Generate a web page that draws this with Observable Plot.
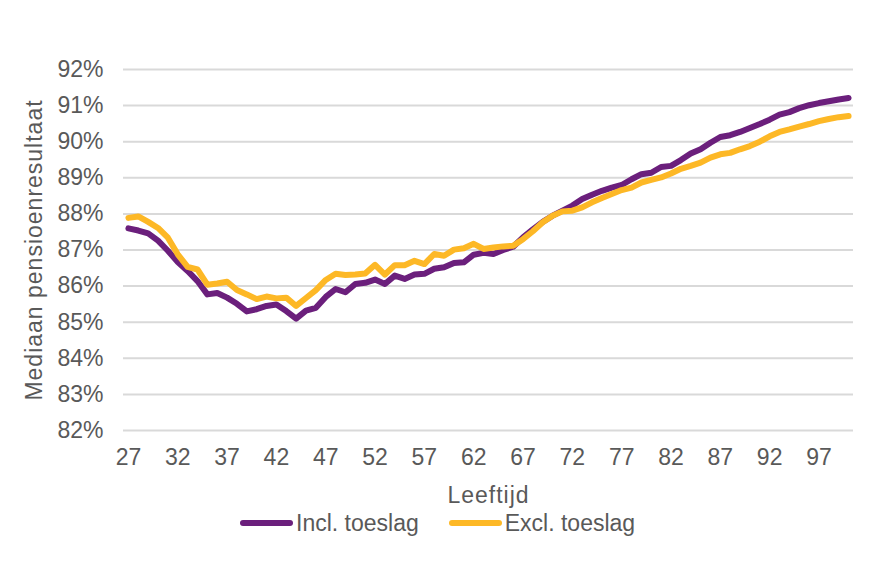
<!DOCTYPE html>
<html>
<head>
<meta charset="utf-8">
<script src="https://cdn.jsdelivr.net/npm/d3@7"></script>
<script src="https://cdn.jsdelivr.net/npm/@observablehq/plot@0.6"></script>
<style>
  html, body { margin: 0; background: #fff; }
  body { font-family: "Liberation Sans", Arial, sans-serif; width: 889px; height: 577px; overflow: hidden; }
  #chart svg { display: block; }
  [aria-label="x-axis label"] text, [aria-label="y-axis label"] text { letter-spacing: 1px; }
  .legend { display: flex; align-items: center; height: 35px; margin-top: -7px; padding-left: 240px; color: #595959; font-size: 23px; line-height: 26px; }
  .item { display: flex; align-items: center; margin-right: 30px; }
  .sw { width: 53px; height: 6px; border-radius: 3px; margin-right: 3px; }
  .spacer { height: 37px; }
</style>
</head>
<body>
<div id="chart"></div>
<div class="legend" id="legend"></div>
<div class="spacer"></div>
<script>
const ages = [27,28,29,30,31,32,33,34,35,36,37,38,39,40,41,42,43,44,45,46,47,48,49,50,
  51,52,53,54,55,56,57,58,59,60,61,62,63,64,65,66,67,68,69,70,71,72,73,74,75,76,77,78,79,80,
  81,82,83,84,85,86,87,88,89,90,91,92,93,94,95,96,97,98,99,100];

const inclToeslag = [87.60,87.54,87.46,87.26,86.98,86.67,86.42,86.14,85.77,85.81,85.68,85.51,85.30,85.36,
  85.45,85.49,85.31,85.10,85.32,85.40,85.70,85.92,85.83,86.06,86.09,86.18,86.06,86.29,86.20,86.32,
  86.34,86.48,86.52,86.64,86.66,86.87,86.92,86.89,87.00,87.09,87.35,87.57,87.78,87.95,88.09,88.23,
  88.41,88.53,88.64,88.73,88.80,88.96,89.10,89.14,89.30,89.33,89.49,89.67,89.79,89.97,90.13,90.18,
  90.27,90.38,90.49,90.61,90.75,90.82,90.93,91.01,91.07,91.12,91.17,91.21];

const exclToeslag = [87.89,87.93,87.78,87.61,87.34,86.88,86.53,86.46,86.04,86.07,86.12,85.89,85.77,85.64,
  85.71,85.66,85.68,85.45,85.67,85.89,86.17,86.34,86.31,86.32,86.35,86.59,86.32,86.58,86.58,86.70,
  86.61,86.89,86.84,87.01,87.05,87.17,87.03,87.07,87.10,87.12,87.30,87.52,87.77,87.95,88.07,88.09,
  88.18,88.32,88.44,88.55,88.66,88.73,88.87,88.94,89.01,89.12,89.25,89.33,89.42,89.56,89.65,89.69,
  89.79,89.88,90.00,90.15,90.27,90.34,90.42,90.49,90.57,90.63,90.68,90.71];

const xTicks = [27,32,37,42,47,52,57,62,67,72,77,82,87,92,97];
const yTicks = [82,83,84,85,86,87,88,89,90,91,92];
const seriesNames = ["Incl. toeslag", "Excl. toeslag"];
const seriesColors = ["#6b1f7c", "#fdb826"];

const inclData = ages.map((a, i) => ({age: a, value: inclToeslag[i]}));
const exclData = ages.map((a, i) => ({age: a, value: exclToeslag[i]}));

const chart = Plot.plot({
  width: 889,
  height: 512,
  marginTop: 69,
  marginBottom: 82,
  marginLeft: 123,
  marginRight: 36,
  style: {fontFamily: "'Liberation Sans', Arial, sans-serif", fontSize: "23px", color: "#595959", background: "transparent"},
  x: {type: "linear", domain: [26.5, 100.5]},
  y: {type: "linear", domain: [82, 92]},
  marks: [
    Plot.gridY(yTicks, {stroke: "#d9d9d9", strokeOpacity: 1, strokeWidth: 2}),
    Plot.axisY(yTicks, {tickSize: 0, tickPadding: 20, tickFormat: d => d + "%", fill: "#595959",
      label: "Mediaan pensioenresultaat", labelAnchor: "center", labelOffset: 98, labelArrow: "none"}),
    Plot.axisX(xTicks, {tickSize: 0, tickPadding: 18, tickFormat: d => String(d), fill: "#595959",
      label: "Leeftijd", labelAnchor: "center", labelOffset: 72, labelArrow: "none"}),
    Plot.lineY(inclData, {x: "age", y: "value", stroke: seriesColors[0], strokeWidth: 6,
      strokeLinecap: "round", strokeLinejoin: "round"}),
    Plot.lineY(exclData, {x: "age", y: "value", stroke: seriesColors[1], strokeWidth: 6,
      strokeLinecap: "round", strokeLinejoin: "round"})
  ]
});
document.getElementById("chart").appendChild(chart);

const legend = document.getElementById("legend");
seriesNames.forEach((name, i) => {
  const item = document.createElement("div");
  item.className = "item";
  const sw = document.createElement("div");
  sw.className = "sw";
  sw.style.background = seriesColors[i];
  const label = document.createElement("span");
  label.textContent = name;
  item.appendChild(sw);
  item.appendChild(label);
  legend.appendChild(item);
});
</script>
</body>
</html>
